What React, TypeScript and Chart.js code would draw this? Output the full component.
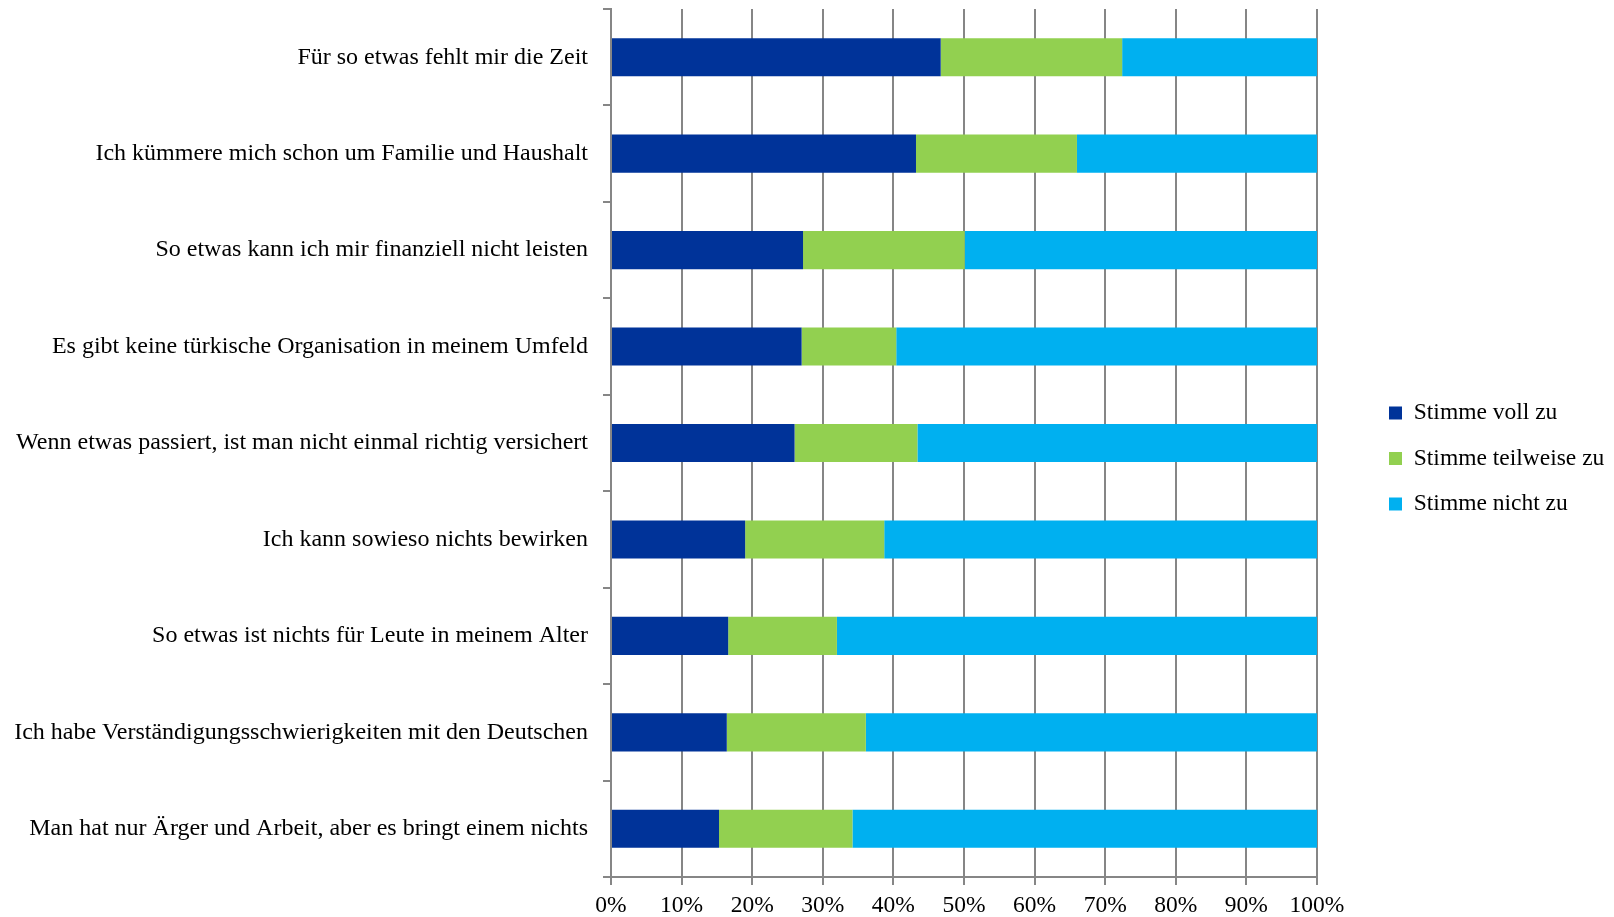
import React, { useEffect, useRef } from 'react';
import { Chart, registerables } from 'chart.js';
Chart.register(...registerables);

const categories = [
  'Für so etwas fehlt mir die Zeit',
  'Ich kümmere mich schon um Familie und Haushalt',
  'So etwas kann ich mir finanziell nicht leisten',
  'Es gibt keine türkische Organisation in meinem Umfeld',
  'Wenn etwas passiert, ist man nicht einmal richtig versichert',
  'Ich kann sowieso nichts bewirken',
  'So etwas ist nichts für Leute in meinem Alter',
  'Ich habe Verständigungsschwierigkeiten mit den Deutschen',
  'Man hat nur Ärger und Arbeit, aber es bringt einem nichts',
];
const seriesNames = ['Stimme voll zu', 'Stimme teilweise zu', 'Stimme nicht zu'];
const vollZu = [46.7, 43.2, 27.2, 27.0, 26.0, 19.0, 16.6, 16.4, 15.3];
const teilweiseZu = [25.7, 22.8, 22.9, 13.4, 17.4, 19.7, 15.4, 19.7, 18.9];
const nichtZu = [27.6, 34.0, 49.9, 59.6, 56.6, 61.3, 68.0, 63.9, 65.8];
const colors = ['#003399', '#92D050', '#00B0F0'];

const FONT = "'Liberation Serif', 'DejaVu Serif', serif";
const GRID = '#868686';

const legendShift = {
  id: 'legendShift',
  afterLayout(chart: any) {
    const lg = chart.legend;
    if (!lg) return;
    const newLeft = 1367;
    const w = lg.width;
    lg.left = newLeft;
    lg.right = newLeft + w;
  },
};

export default function App() {
  const ref = useRef<HTMLCanvasElement>(null);
  useEffect(() => {
    const values = [vollZu, teilweiseZu, nichtZu];
    const chart = new Chart(ref.current!, {
      type: 'bar',
      plugins: [legendShift],
      data: {
        labels: categories,
        datasets: seriesNames.map((name, i) => ({
          label: name,
          data: values[i],
          backgroundColor: colors[i],
          borderWidth: 0,
          barPercentage: 0.395,
          categoryPercentage: 1,
        })),
      },
      options: {
        indexAxis: 'y',
        animation: false,
        responsive: false,
        layout: { padding: { top: 0, left: 0, right: 0, bottom: 0 } },
        plugins: {
          tooltip: { enabled: false },
          legend: {
            position: 'right',
            labels: {
              font: { family: FONT, size: 23.5 },
              color: '#000',
              boxWidth: 13,
              boxHeight: 13,
              padding: 22,
            },
          },
        },
        scales: {
          x: {
            stacked: true,
            min: 0,
            max: 100,
            afterFit: (scale: any) => {
              scale.paddingRight = 297;
              scale.height = 40;
            },
            ticks: {
              stepSize: 10,
              callback: (v: any) => v + '%',
              font: { family: FONT, size: 23.5, lineHeight: 1 },
              color: '#000',
              padding: 9,
              maxRotation: 0,
            },
            grid: { color: GRID, lineWidth: 2, tickLength: 8 },
            border: { color: GRID, width: 2 },
          },
          y: {
            stacked: true,
            afterFit: (scale: any) => {
              scale.width = 611;
              scale.paddingTop = 9;
              scale.paddingBottom = 0;
            },
            ticks: {
              font: { family: FONT, size: 24 },
              color: '#000',
              padding: 15,
            },
            grid: { offset: true, drawOnChartArea: false, color: GRID, lineWidth: 2, tickLength: 8 },
            border: { color: GRID, width: 2 },
          },
        },
      },
    });
    return () => chart.destroy();
  }, []);
  return (
    <div style={{ position: 'absolute', left: 0, top: 0, width: 1614, height: 917 }}>
      <canvas ref={ref} width={1614} height={917} />
    </div>
  );
}
